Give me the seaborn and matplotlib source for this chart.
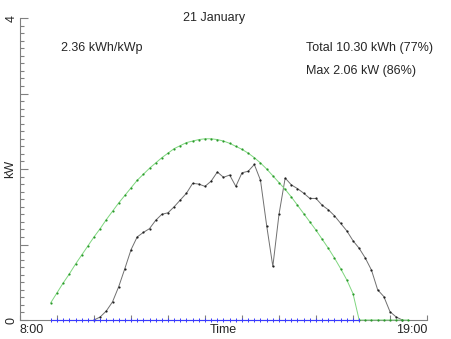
import numpy as np
import pandas as pd
import matplotlib
matplotlib.use("Agg")
import matplotlib.pyplot as plt
from matplotlib.ticker import MultipleLocator, FixedLocator
import seaborn as sns

# ---- data (10-minute samples) ----
measured_start = "10:00"
measured_kw = [0.00, 0.04, 0.12, 0.24, 0.44, 0.68, 0.93, 1.10, 1.16, 1.21,
               1.32, 1.40, 1.42, 1.50, 1.59, 1.68, 1.81, 1.80, 1.77, 1.84,
               1.96, 1.89, 1.92, 1.77, 1.95, 1.97, 2.06, 1.85, 1.25, 0.71,
               1.40, 1.88, 1.79, 1.74, 1.68, 1.61, 1.61, 1.52, 1.46, 1.38,
               1.28, 1.18, 1.05, 0.95, 0.82, 0.66, 0.40, 0.31, 0.11, 0.04,
               0.00]

clearsky_start = "08:50"
clearsky_kw = [0.23, 0.36, 0.49, 0.61, 0.74, 0.86, 0.98, 1.10, 1.21, 1.33,
               1.44, 1.55, 1.65, 1.75, 1.85, 1.93, 2.01, 2.08, 2.15, 2.21,
               2.27, 2.31, 2.35, 2.37, 2.39, 2.40, 2.40, 2.39, 2.37, 2.34,
               2.30, 2.26, 2.21, 2.15, 2.08, 2.00, 1.91, 1.82, 1.73, 1.63,
               1.52, 1.41, 1.30, 1.19, 1.07, 0.95, 0.82, 0.68, 0.53, 0.35,
               0.00, 0.00, 0.00, 0.00, 0.00, 0.00, 0.00, 0.00, 0.00]

base_start = "08:50"
base_kw = [0.0] * 51

x_tick_labels = ["8:00", "19:00"]
y_tick_labels = ["0", "4"]
title = "21 January"
specific_yield = "2.36 kWh/kWp"
total_text = "Total 10.30 kWh (77%)"
max_text = "Max 2.06 kW (86%)"


def to_hours(start, n):
    h, m = start.split(":")
    t0 = int(h) + int(m) / 60.0
    return [t0 + i / 6.0 for i in range(n)]


df_meas = pd.DataFrame({"t": to_hours(measured_start, len(measured_kw)), "kW": measured_kw})
df_clear = pd.DataFrame({"t": to_hours(clearsky_start, len(clearsky_kw)), "kW": clearsky_kw})
df_base = pd.DataFrame({"t": to_hours(base_start, len(base_kw)), "kW": base_kw})

sns.set_style("white", {"xtick.bottom": True, "ytick.left": True})
plt.rcParams["font.family"] = ["Liberation Sans", "DejaVu Sans"]

W, H = 452, 339
fig = plt.figure(figsize=(W / 100, H / 100), dpi=100)
ax = fig.add_axes([20 / W, 1 - 320 / H, 407 / W, 302 / H])

sns.lineplot(data=df_meas, x="t", y="kW", ax=ax, color="#707070", lw=0.7,
             marker="o", markersize=1.6, mfc="#202020", mec="#202020", mew=0,
             clip_on=False, zorder=3)
sns.lineplot(data=df_clear, x="t", y="kW", ax=ax, color="#7fd67f", lw=0.7,
             marker="o", markersize=1.6, mfc="#2a9a2a", mec="#2a9a2a", mew=0,
             clip_on=False, zorder=4)
sns.lineplot(data=df_base, x="t", y="kW", ax=ax, color="#3a3aff", lw=0.8,
             marker="|", markersize=2.6, mec="#3a3aff", mew=0.7,
             clip_on=False, zorder=5)

ax.set_xlim(8, 19)
ax.set_ylim(0, 4)

for s in ["top", "right"]:
    ax.spines[s].set_visible(False)
for s in ["left", "bottom"]:
    ax.spines[s].set_color("#808080")
    ax.spines[s].set_linewidth(0.8)

ax.xaxis.set_major_locator(FixedLocator(list(range(8, 20))))
ax.set_xticklabels([x_tick_labels[0]] + [""] * 10 + [x_tick_labels[1]])
ax.yaxis.set_major_locator(FixedLocator([0, 1, 2, 3, 4]))
ax.set_yticklabels([y_tick_labels[0], "", "", "", y_tick_labels[1]])
ax.yaxis.set_minor_locator(MultipleLocator(0.1))

ax.tick_params(axis="x", which="major", direction="in", length=3.6, width=0.8,
               color="#808080", labelsize=9, pad=3, bottom=True)
ax.tick_params(axis="y", which="major", direction="in", length=5.8, width=0.8,
               color="#808080", labelsize=9, pad=2, labelrotation=90, left=True)
ax.tick_params(axis="y", which="minor", direction="in", length=2.9, width=0.8,
               color="#808080", left=True)
for lab in ax.get_yticklabels():
    lab.set_va("center")
xl = ax.get_xticklabels()
xl[0].set_ha("left")
xl[-1].set_ha("right")

ax.set_xlabel("Time", fontsize=9, va="center")
ax.xaxis.set_label_coords(0.5, -10 / 302)
ax.set_ylabel("kW", fontsize=9, va="center")
ax.yaxis.set_label_coords(-10 / 407, 0.5)

fig.text(214 / W, 1 - 18 / H, title, ha="center", va="center", fontsize=9)
fig.text(61 / W, 1 - 48 / H, specific_yield, ha="left", va="center", fontsize=9)
fig.text(306 / W, 1 - 48 / H, total_text, ha="left", va="center", fontsize=9)
fig.text(306 / W, 1 - 71 / H, max_text, ha="left", va="center", fontsize=9)

fig.savefig("out.png", dpi=100)
